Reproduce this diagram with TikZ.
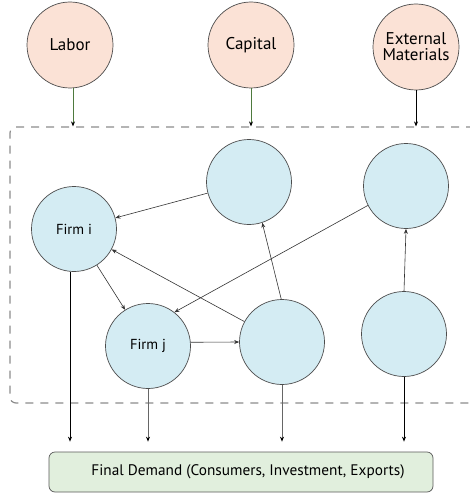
\documentclass[tikz,border=0pt]{standalone}
\usepackage{fontspec}
\setmainfont{PT Sans}
\usetikzlibrary{arrows.meta}
\definecolor{peach}{HTML}{FBE2D6}
\definecolor{skyb}{HTML}{D4ECF3}
\definecolor{mint}{HTML}{E1EFDD}
\definecolor{olive}{HTML}{4E7A3E}
\tikzset{
  src/.style={circle, draw=black!70, fill=peach, line width=0.7pt, minimum size=86pt, inner sep=0pt, align=center, font=\fontsize{17}{18}\selectfont},
  firm/.style={circle, draw=black!70, fill=skyb, line width=0.7pt, minimum size=85pt, inner sep=0pt, font=\fontsize{14.5}{16}\selectfont},
  flow/.style={draw=black!80, line width=0.6pt, -{Stealth[length=5pt,width=4pt]}},
  inflow/.style={draw=olive, line width=0.8pt, -{Stealth[length=5pt,width=4pt,black]}},
  outflow/.style={draw=black, line width=0.9pt, -{Stealth[length=5pt,width=4pt]}},
  grayflow/.style={draw=black!60, line width=0.8pt, -{Stealth[length=5pt,width=4pt,black]}},
  sysbox/.style={draw=black!45, dash pattern=on 8pt off 7pt, line width=1.2pt, rounded corners=6pt, minimum width=470pt, minimum height=276pt, inner sep=0pt},
  fdbox/.style={draw=black!65, fill=mint, line width=0.7pt, rounded corners=6pt, minimum width=384pt, minimum height=40pt, inner sep=0pt, font=\fontsize{15.3}{16}\selectfont}
}
\begin{document}
\begin{tikzpicture}[x=1pt,y=-1pt]
\useasboundingbox (0,0) rectangle (470,495);
\node[sysbox] (sys) at (245,265) {};
\node[src] (lab) at (70,45) {Labor};
\node[src] (cap) at (251,45) {Capital};
\node[src] (ext) at (416,47) {External\\[-2pt]Materials};
\node[firm] (t1) at (249,182) {};
\node[firm] (t2) at (406,186) {};
\node[firm] (fi) at (74,229) {Firm i};
\node[firm] (fj) at (148,346) {Firm j};
\node[firm] (b1) at (282,342) {};
\node[firm] (b2) at (404,334) {};
\node[fdbox] (fd) at (241,472) {\hspace{14pt}Final Demand (Consumers, Investment, Exports)};
% inputs
\draw[inflow] ([xshift=3pt]lab.south) -- ([xshift=3pt]lab.south |- sys.north);
\draw[inflow] (cap.south) -- (cap.south |- sys.north);
\draw[outflow, line width=0.7pt] (ext.south) -- (ext.south |- sys.north);
% inter-firm flows
\draw[flow] (t1) -- (fi);
\draw[flow] (t2.207) -- (fj.52);
\draw[flow] (fi) -- (fj);
\draw[flow] (b1) -- (fi);
\draw[flow] (b1.91) -- (t1.-72);
\draw[flow] (b2.north) -- (t2.south);
\draw[flow] (fj.5) -- (b1.west);
% outputs
\draw[outflow] ([xshift=-4pt]fi.south) -- ([xshift=-4pt,yshift=10pt]fi.south |- fd.north);
\draw[grayflow] (fj.south) -- ([yshift=10pt]fj.south |- fd.north);
\draw[grayflow] (b1.south) -- ([yshift=10pt]b1.south |- fd.north);
\draw[outflow] (b2.south) -- ([yshift=10pt]b2.south |- fd.north);
\end{tikzpicture}
\end{document}
